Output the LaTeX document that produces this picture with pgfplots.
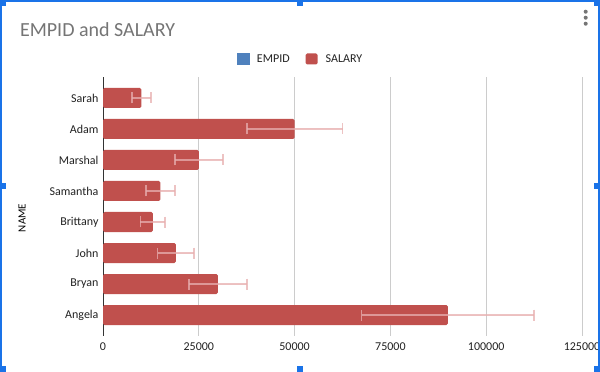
\documentclass[border=0pt]{standalone}
\usepackage{pgfplots}
\pgfplotsset{compat=1.18}
\usepackage{pgfplotstable}
\usepackage{fontspec}
\setmainfont{Carlito}
\definecolor{barred}{RGB}{192,80,77}
\definecolor{legblue}{RGB}{79,129,189}
\definecolor{errc}{RGB}{232,176,176}
\definecolor{gridc}{RGB}{204,204,204}
\definecolor{titlec}{RGB}{117,117,117}
\definecolor{selblue}{RGB}{26,115,232}
\definecolor{txt}{RGB}{34,34,34}

\pgfplotstableread{
idx salary err
0 90000 22500
1 30000 7500
2 19000 4750
3 13000 3250
4 15000 3750
5 25000 6250
6 50000 12500
7 10000 2500
}\salarydata

\begin{document}
\begin{tikzpicture}
\useasboundingbox (0,0) rectangle (600pt,372pt);
\fill[white] (0,0) rectangle (600pt,372pt);
\begin{axis}[
  at={(103pt,36pt)}, anchor=south west,
  scale only axis,
  width=479pt, height=259pt,
  xmin=0, xmax=125000,
  ymin=-0.677, ymax=7.677,
  xtick={0,25000,50000,75000,100000,125000},
  ytick={0,...,7},
  yticklabels={Angela,Bryan,John,Brittany,Samantha,Marshal,Adam,Sarah},
  scaled x ticks=false,
  /pgf/number format/.cd, fixed, 1000 sep={}, assume math mode=true, /pgfplots/.cd,
  xmajorgrids,
  grid style={draw=gridc, line width=0.8pt},
  major tick length=0pt,
  axis line style={draw=none},
  extra x ticks={0},
  extra x tick labels={},
  extra x tick style={grid style={draw=black!80, line width=1pt}},
  tick label style={font=\fontsize{12}{14}\selectfont, text=txt},
  xticklabel style={yshift=-3.5pt},
  yticklabel style={xshift=-1pt},
  ylabel={NAME},
  ylabel style={at={(axis description cs:-0.169,0.456)}, anchor=center, font=\fontsize{11}{13}\selectfont, text=black},
  legend columns=2,
  legend style={at={(axis description cs:0.410,1.0695)}, anchor=center, draw=none, fill=none,
    font=\fontsize{12}{14}\selectfont, text=txt,
    nodes={inner sep=0pt},
    /tikz/every odd column/.append style={column sep=8pt},
    /tikz/every even column/.append style={column sep=16pt}},
  legend cell align=left,
]
\addlegendimage{legend image code/.code={\fill[legblue] (0pt,-5.5pt) rectangle (12pt,5.5pt);}}
\addlegendentry{EMPID}
\addplot[xbar, bar width=20pt, bar shift=0pt, fill=barred, draw=none, rounded corners=1.5pt,
  legend image code/.code={\fill[barred] (0pt,-5.5pt) rectangle (12pt,5.5pt);},
  error bars/.cd, x dir=both, x explicit,
  error bar style={draw=errc, line width=1.6pt, opacity=0.75, rounded corners=0pt},
  error mark options={draw=errc, line width=1.6pt, opacity=0.75, mark size=5.5pt, rotate=90}]
  table[x=salary, y=idx, x error=err] {\salarydata};
\addlegendentry{SALARY}
\end{axis}
% chart title
\node[anchor=base west, font=\fontsize{20}{24}\selectfont, text=titlec] at (16.5pt,335pt) {EMPID and SALARY};
% menu dots
\foreach \yy in {360.3,354.3,348.3} \fill[titlec] (585.7pt,\yy pt) circle (2pt);
% selection frame
\draw[selblue, line width=1.6pt] (1pt,0pt) -- (1pt,371pt) -- (599pt,371pt) -- (599pt,0pt);
\foreach \xx/\yy in {0/366,297/366,594/366,0/183,594/183,0/0,297/0,594/0}
  \fill[selblue] (\xx pt,\yy pt) rectangle ++(6pt,6pt);
\end{tikzpicture}
\end{document}
